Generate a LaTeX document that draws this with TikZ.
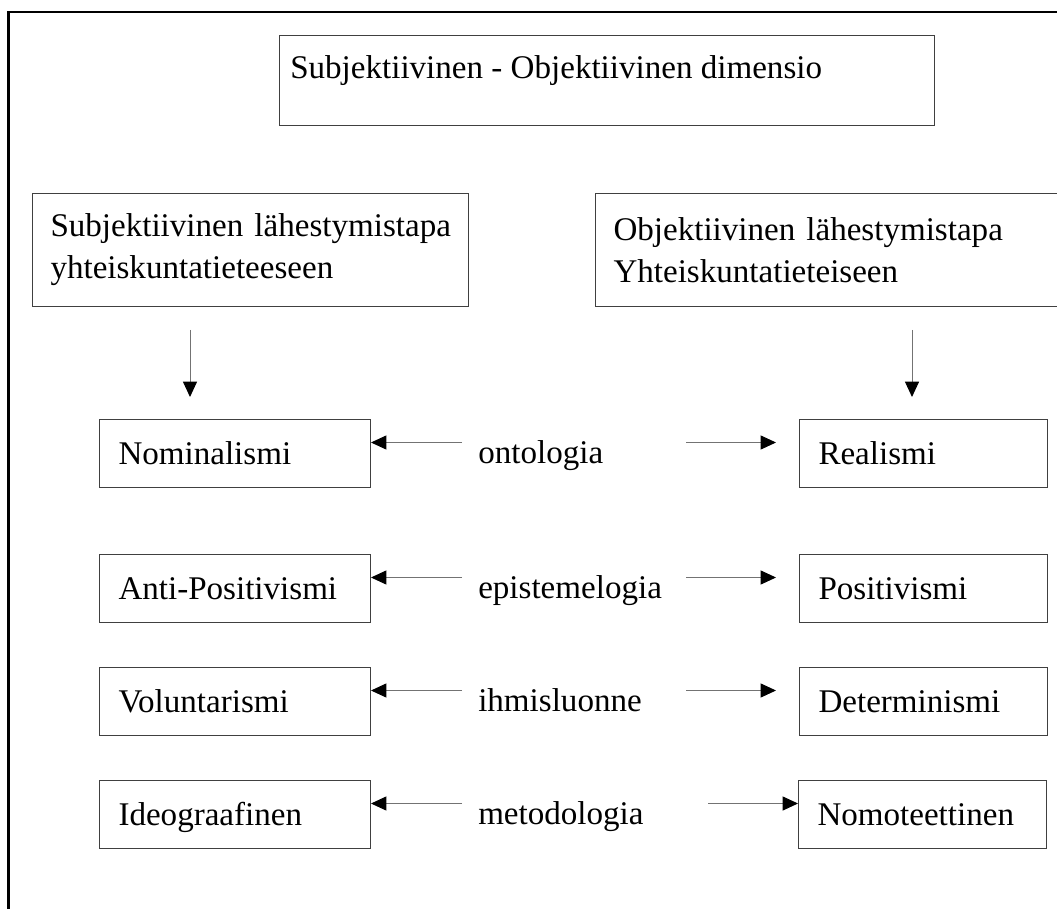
\documentclass[tikz,border=0pt]{standalone}
\usepackage{fontspec}
\setmainfont{Liberation Serif}
\usetikzlibrary{arrows.meta,calc}
\begin{document}
\begin{tikzpicture}[x=0.75pt,y=-0.75pt,
  every node/.style={font=\fontsize{24.8pt}{31.5pt}\selectfont},
  box/.style={draw=black!75, line width=0.75pt, rectangle, inner sep=0pt, align=left, anchor=north west},
  rowbox/.style={box, minimum width=271*0.75pt, minimum height=68*0.75pt, text width=233*0.75pt, text depth=0pt, text height=16.8pt},
  rrowbox/.style={rowbox, minimum width=248*0.75pt, text width=210*0.75pt},
  lbl/.style={anchor=base west, inner sep=0pt},
  arr/.style={draw=black!55, line width=0.75pt, -{Triangle[length=11.5pt,width=10.5pt,color=black]}}
]
\useasboundingbox (0,0) rectangle (1057,909);
\clip (0,0) rectangle (1057,909);
% outer frame (only top and left edges visible)
\draw[line width=1.8pt] (8.5,915) -- (8.5,12) -- (1070,12);
% title
\node[box, minimum width=655*0.75pt, minimum height=90*0.75pt] (title) at (279,35) {};
\node[lbl] (titletext) at (290,79) {Subjektiivinen - Objektiivinen dimensio};
% approach boxes
\node[box, minimum width=436*0.75pt, minimum height=113*0.75pt, text width=400*0.75pt] (subj) at (32,193) {\mbox{Subjektiivinen lähestymistapa}\\\mbox{yhteiskuntatieteeseen}};
\node[box, minimum width=480*0.75pt, minimum height=113*0.75pt, text width=444*0.75pt] (obj) at (595,193) {\mbox{Objektiivinen lähestymistapa}\\\mbox{Yhteiskuntatieteiseen}};
% down arrows
\coordinate (d1s) at ($(subj.south west)+(158,23)$);
\coordinate (d1e) at ($(subj.south west)+(158,90)$);
\coordinate (d2s) at ($(obj.south west)+(317,23)$);
\coordinate (d2e) at ($(obj.south west)+(317,90)$);
\draw[arr] (d1s) -- (d1e);
\draw[arr] (d2s) -- (d2e);
% rows
\node[rowbox] (nom) at (99,419) {Nominalismi};
\node[rowbox] (anti) at (99,554) {Anti-Positivismi};
\node[rowbox] (vol) at (99,667) {Voluntarismi};
\node[rowbox] (ideo) at (99,780) {Ideograafinen};
\node[rrowbox] (real) at (799,419) {Realismi};
\node[rrowbox] (pos) at (799,554) {Positivismi};
\node[rrowbox] (det) at (799,667) {Determinismi};
\node[rrowbox] (nomo) at (798,780) {Nomoteettinen};
% labels
\node[lbl] (l1) at (478,463) {ontologia};
\node[lbl] (l2) at (478,598) {epistemelogia};
\node[lbl] (l3) at (478,711) {ihmisluonne};
\node[lbl] (l4) at (478,824) {metodologia};
% horizontal arrows
\foreach \a/\b in {nom/real, anti/pos, vol/det}{
  \draw[arr] ($(\a.east)+(91,-11)$) -- ($(\a.east)+(0,-11)$);
  \draw[arr] ($(\b.west)+(-113,-11)$) -- ($(\b.west)+(-23,-11)$);
}
\draw[arr] ($(ideo.east)+(91,-11)$) -- ($(ideo.east)+(0,-11)$);
\draw[arr] ($(nomo.west)+(-90,-11)$) -- ($(nomo.west)+(0,-11)$);
\end{tikzpicture}
\end{document}
